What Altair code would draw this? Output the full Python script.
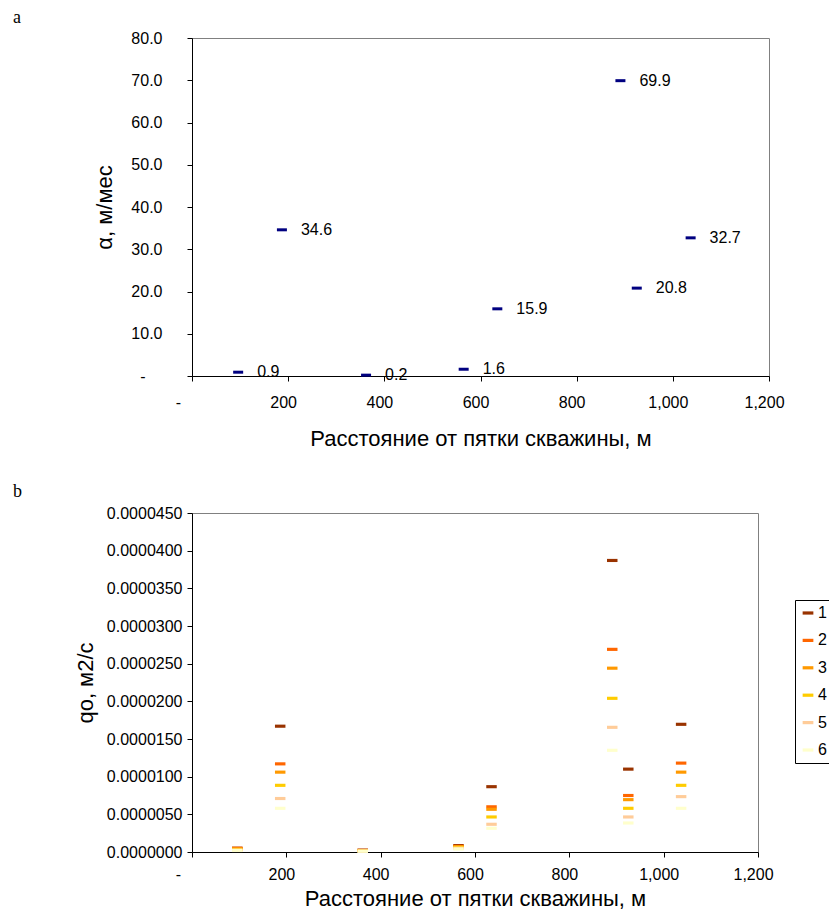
import altair as alt
import pandas as pd

# ---- data ----
distance = [96, 187, 362, 565, 635, 891, 925, 1037]
alpha = [0.9, 34.6, 0.2, 1.6, 15.9, 69.9, 20.8, 32.7]
alpha_labels = ["0.9", "34.6", "0.2", "1.6", "15.9", "69.9", "20.8", "32.7"]

series_names = ["1", "2", "3", "4", "5", "6"]
QO_UNIT = 1e-6  # values below are given in units of 1e-6 m2/s
q1 = [0.50, 16.70, 0.25, 0.85, 8.67, 38.70, 11.00, 16.95]
q2 = [0.50, 11.70, 0.22, 0.75, 6.00, 26.90, 7.50, 11.80]
q3 = [0.42, 10.60, 0.18, 0.70, 5.67, 24.40, 6.95, 10.60]
q4 = [0.33, 8.85, 0.15, 0.60, 4.65, 20.40, 5.80, 8.85]
q5 = [0.25, 7.10, 0.12, 0.50, 3.68, 16.55, 4.65, 7.35]
q6 = [0.20, 5.80, 0.10, 0.40, 3.15, 13.50, 3.85, 5.80]
series_values = [q1, q2, q3, q4, q5, q6]
series_colors = ["#993300", "#FF6600", "#FF9900", "#FFCC00", "#FFCC99", "#FFFFCC"]

x_ticks = [0, 200, 400, 600, 800, 1000, 1200]
a_ticks = [0, 10, 20, 30, 40, 50, 60, 70, 80]
b_ticks = [0, 0.000005, 0.00001, 0.000015, 0.00002, 0.000025, 0.00003, 0.000035, 0.00004, 0.000045]

x_title = "Расстояние от пятки скважины, м"
a_title = "α, м/мес"
b_title = "qo, м2/с"

DASH = "M-1,-0.3H1V0.3H-1Z"
FONT = "Liberation Sans"

df_a = pd.DataFrame({"x": distance, "y": alpha, "lbl": alpha_labels})
rows = []
for k, (name, vals) in enumerate(zip(series_names, series_values)):
    for d, v in zip(distance, vals):
        rows.append({"x": d, "q": v * QO_UNIT, "series": name, "ord": k})
df_b = pd.DataFrame(rows)

x_label_expr = "datum.value == 0 ? '-' : format(datum.value, ',')"
zero_test = "datum.value == 0"


def x_axis(label_pad, title_pad):
    return alt.Axis(values=x_ticks, labelExpr=x_label_expr, title=x_title,
                    tickSize=5, labelPadding=label_pad, titlePadding=title_pad,
                    labelOffset={"condition": {"test": zero_test, "value": -14}, "value": -5},
                    labelAlign="center")


# ---- panel a ----
xa = alt.X("x:Q", scale=alt.Scale(domain=[0, 1200], nice=False), axis=x_axis(13, 18))
ya = alt.Y("y:Q", scale=alt.Scale(domain=[0, 80], nice=False),
           axis=alt.Axis(values=a_ticks, title=a_title, tickSize=5,
                         labelPadding={"condition": {"test": zero_test, "value": 42}, "value": 25},
                         titlePadding=14,
                         labelExpr="datum.value == 0 ? '-' : format(datum.value, '.1f')"))

pts_a = alt.Chart(df_a).mark_point(shape=DASH, filled=True, size=100, opacity=1,
                                   color="#000080", strokeWidth=0).encode(x=xa, y=ya)
txt_a = alt.Chart(df_a).mark_text(align="left", baseline="middle", dx=19, fontSize=16,
                                  font=FONT, color="black").encode(x=xa, y=ya, text="lbl:N")

top = alt.layer(pts_a, txt_a).properties(
    width=577, height=338,
    title=alt.TitleParams(text="a", anchor="start", frame="group", dx=-179, orient="top",
                          font="Liberation Serif", fontSize=18, fontWeight="normal",
                          offset=3.5, color="black"))

# ---- panel b ----
xb = alt.X("x:Q", scale=alt.Scale(domain=[0, 1200], nice=False), axis=x_axis(9, 6))
yb = alt.Y("q:Q", scale=alt.Scale(domain=[0, 0.000045], nice=False),
           axis=alt.Axis(values=b_ticks, format=".7f", title=b_title, tickSize=5,
                         labelPadding=5, titlePadding=9))

pts_b = alt.Chart(df_b).mark_point(shape=DASH, filled=True, size=110, opacity=1,
                                   strokeWidth=0).encode(
    x=xb, y=yb,
    color=alt.Color("series:N", title=None,
                    scale=alt.Scale(domain=series_names, range=series_colors),
                    legend=alt.Legend(orient="none", legendX=603, legendY=87,
                                      strokeColor="black", fillColor="white", padding=5,
                                      rowPadding=11.4, symbolType=DASH, symbolSize=115,
                                      symbolStrokeWidth=0, labelFontSize=16,
                                      labelFont=FONT, labelColor="black", labelOffset=2)),
    order=alt.Order("ord:Q"))

bottom = pts_b.properties(
    width=566, height=339,
    title=alt.TitleParams(text="b", anchor="start", frame="group", dx=-179, orient="top",
                          font="Liberation Serif", fontSize=18, fontWeight="normal",
                          offset=4, color="black"))

chart = alt.vconcat(top, bottom, spacing=32).resolve_scale(color="independent").resolve_legend(
    color="independent").properties(
    padding={"left": 4, "top": 0, "right": -4, "bottom": 0},
    background="white").configure_view(stroke="#808080", strokeWidth=1).configure_axis(
    grid=False, domainColor="black", tickColor="black", labelColor="black",
    labelFont=FONT, labelFontSize=16, titleFont=FONT, titleFontSize=22,
    titleFontWeight="normal", titleColor="black")

chart.save("out.html", embed_options={"renderer": "svg", "actions": False})
